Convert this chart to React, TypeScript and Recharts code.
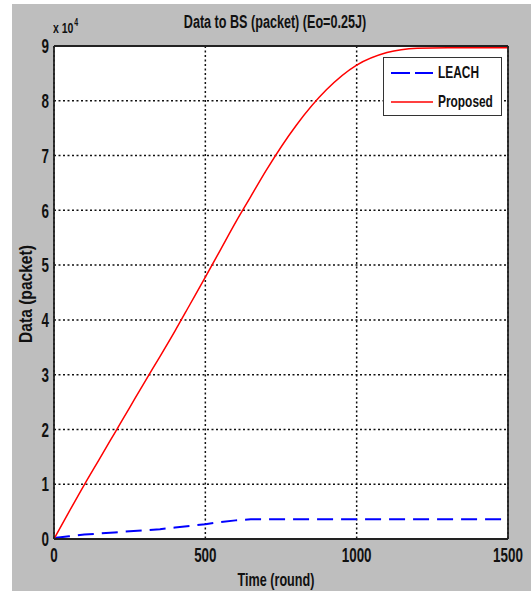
import { LineChart, Line, XAxis, YAxis, CartesianGrid, Legend } from 'recharts';

const rounds = [0, 50, 100, 150, 200, 250, 300, 350, 400, 450, 500, 550, 600, 650, 700, 800, 900, 1000, 1100, 1200, 1300, 1400, 1500];
const proposed = [0, 5000, 9900, 14600, 19300, 24000, 28700, 33300, 38000, 42900, 47800, 52800, 57800, 62500, 67200, 75500, 82000, 86500, 88800, 89600, 89700, 89700, 89700];
const leach = [200, 500, 800, 1000, 1200, 1400, 1600, 1800, 2100, 2400, 2700, 3100, 3400, 3600, 3600, 3600, 3600, 3600, 3600, 3600, 3600, 3600, 3600];

const xTicks = [0, 500, 1000, 1500];
const yTicks = [0, 10000, 20000, 30000, 40000, 50000, 60000, 70000, 80000, 90000];

const data = rounds.map((r, i) => ({ round: r, LEACH: leach[i], Proposed: proposed[i] }));

const FONT = '"Liberation Sans", Arial, sans-serif';
const SQUISH = 0.7;
const ink = '#111';

// matlab-ish squeezed labels
function XTick({ x, y, payload }: any) {
  return (
    <g transform={`translate(${x},${y})`}>
      <text transform="scale(0.67,1)" textAnchor="middle" dy="0.75em" fill={ink} fontSize={20} fontFamily={FONT} fontWeight="bold">
        {payload.value}
      </text>
    </g>
  );
}

function YTick({ x, y, payload }: any) {
  return (
    <g transform={`translate(${x},${y})`}>
      <text transform="scale(0.67,1)" textAnchor="end" dy="0.36em" fill={ink} fontSize={20} fontFamily={FONT} fontWeight="bold">
        {payload.value / 10000}
      </text>
    </g>
  );
}

const squeezed = (size: number): React.CSSProperties => ({
  display: 'inline-block',
  fontFamily: FONT,
  fontWeight: 'bold',
  fontSize: size,
  lineHeight: 1,
  color: ink,
  whiteSpace: 'nowrap',
});

function LegendBox() {
  const row: React.CSSProperties = { display: 'flex', alignItems: 'center', height: 29, paddingLeft: 7 };
  const label: React.CSSProperties = { ...squeezed(17), flexShrink: 0, transform: `scaleX(${SQUISH})`, transformOrigin: 'left center' };
  return (
    <div style={{ width: 117, height: 57, background: '#fff', border: '1.5px solid #333', overflow: 'hidden' }}>
      <div style={row}>
        <svg width={42} height={6} style={{ marginRight: 5, flexShrink: 0 }}>
          <line x1={0} y1={3} x2={42} y2={3} stroke="#0000ff" strokeWidth={2} strokeDasharray="19 5" />
        </svg>
        <span style={label}>LEACH</span>
      </div>
      <div style={row}>
        <svg width={42} height={6} style={{ marginRight: 5, flexShrink: 0 }}>
          <line x1={0} y1={3} x2={42} y2={3} stroke="#ff0000" strokeWidth={1.5} />
        </svg>
        <span style={label}>Proposed</span>
      </div>
    </div>
  );
}

const border = { stroke: '#222', strokeWidth: 1.8 };

export default function App() {
  return (
    <div style={{ position: 'absolute', left: 0, top: 0, width: 531, height: 591, background: '#fff', overflow: 'hidden' }}>
      <div style={{ position: 'absolute', left: 12, top: 4, width: 519, height: 587, background: '#bebebe' }} />

      <div style={{ position: 'absolute', left: 275, top: 13, transform: `translateX(-50%) scaleX(${SQUISH})` }}>
        <span style={squeezed(18)}>Data to BS (packet) (Eo=0.25J)</span>
      </div>
      <div style={{ position: 'absolute', left: 53, top: 19, transform: `scaleX(${SQUISH})`, transformOrigin: 'left top' }}>
        <span style={squeezed(15)}>
          x 10<span style={{ fontSize: 10, position: 'relative', top: -7, marginLeft: 1 }}>4</span>
        </span>
      </div>
      <div style={{ position: 'absolute', left: 276, top: 571, transform: `translateX(-50%) scaleX(${SQUISH})` }}>
        <span style={squeezed(18)}>Time (round)</span>
      </div>
      <div style={{ position: 'absolute', left: 26, top: 294, transform: 'translate(-50%, -50%) rotate(-90deg) scaleX(0.82)' }}>
        <span style={squeezed(19)}>Data (packet)</span>
      </div>

      <div style={{ position: 'absolute', left: 0, top: 0 }}>
        <LineChart width={531} height={591} data={data} margin={{ top: 45, right: 22, bottom: 22, left: 14 }}>
          <CartesianGrid stroke="#111" strokeWidth={1.5} strokeDasharray="2 2.5" fill="#fff" />
          <XAxis
            dataKey="round"
            type="number"
            domain={[0, 1500]}
            ticks={xTicks}
            interval={0}
            height={30}
            tickSize={0}
            tickMargin={8}
            tick={<XTick />}
            axisLine={border}
          />
          <XAxis xAxisId="top" orientation="top" height={1} tick={false} tickLine={false} axisLine={border} />
          <YAxis
            type="number"
            domain={[0, 90000]}
            ticks={yTicks}
            interval={0}
            width={40}
            tickSize={0}
            tickMargin={5}
            tick={<YTick />}
            axisLine={border}
          />
          <YAxis yAxisId="right" orientation="right" width={1} tick={false} tickLine={false} axisLine={border} />
          <Line type="linear" dataKey="LEACH" stroke="#0000ff" strokeWidth={2} strokeDasharray="16 8" dot={false} isAnimationActive={false} />
          <Line type="monotone" dataKey="Proposed" stroke="#ff0000" strokeWidth={1.5} dot={false} isAnimationActive={false} />
          <Legend
            layout="horizontal"
            verticalAlign="middle"
            align="center"
            content={() => <LegendBox />}
            wrapperStyle={{ left: 383, top: 57, width: 120, height: 60 }}
          />
        </LineChart>
      </div>
    </div>
  );
}
